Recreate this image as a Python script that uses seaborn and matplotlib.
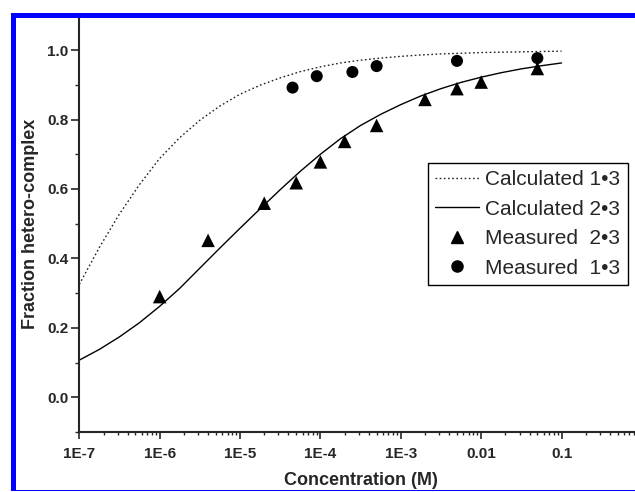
import matplotlib
matplotlib.use("Agg")
import numpy as np
import pandas as pd
import matplotlib.pyplot as plt
import seaborn as sns
from matplotlib.lines import Line2D
from matplotlib.patches import Rectangle
from matplotlib.ticker import LogLocator, FixedLocator, MultipleLocator, NullFormatter

sns.set_style("ticks")
plt.rcParams["font.family"] = ["Liberation Sans", "DejaVu Sans"]

# ---------- data ----------
calc_conc = [1e-7, 1.78e-7, 3.16e-7, 5.62e-7,
             1e-6, 1.78e-6, 3.16e-6, 5.62e-6,
             1e-5, 1.78e-5, 3.16e-5, 5.62e-5,
             1e-4, 1.78e-4, 3.16e-4, 5.62e-4,
             1e-3, 1.78e-3, 3.16e-3, 5.62e-3,
             1e-2, 1.78e-2, 3.16e-2, 5.62e-2, 1e-1]
calc_13 = [0.325, 0.432, 0.528, 0.613,
           0.688, 0.748, 0.798, 0.839,
           0.873, 0.899, 0.920, 0.938,
           0.952, 0.963, 0.971, 0.977,
           0.982, 0.986, 0.989, 0.991,
           0.993, 0.994, 0.995, 0.996, 0.997]
calc_23 = [0.107, 0.138, 0.174, 0.215,
           0.262, 0.314, 0.372, 0.430,
           0.487, 0.543, 0.598, 0.651,
           0.700, 0.745, 0.783, 0.815,
           0.843, 0.868, 0.889, 0.907,
           0.922, 0.935, 0.946, 0.955, 0.963]

meas_23_conc = [1e-6, 4e-6, 2e-5, 5e-5, 1e-4, 2e-4, 5e-4, 2e-3, 5e-3, 1e-2, 5e-2]
meas_23 = [0.29, 0.452, 0.559, 0.618, 0.678, 0.737, 0.783, 0.858, 0.889, 0.908, 0.947]

meas_13_conc = [4.5e-5, 9e-5, 2.5e-4, 5e-4, 5e-3, 5e-2]
meas_13 = [0.892, 0.925, 0.937, 0.954, 0.969, 0.977]

x_ticks = [1e-7, 1e-6, 1e-5, 1e-4, 1e-3, 1e-2, 1e-1]
x_ticklabels = ["1E-7", "1E-6", "1E-5", "1E-4", "1E-3", "0.01", "0.1"]
y_ticks = [0.0, 0.2, 0.4, 0.6, 0.8, 1.0]

calc = pd.DataFrame({"conc": calc_conc, "c13": calc_13, "c23": calc_23})
m23 = pd.DataFrame({"conc": meas_23_conc, "frac": meas_23})
m13 = pd.DataFrame({"conc": meas_13_conc, "frac": meas_13})

# ---------- figure ----------
fig = plt.figure(figsize=(6.35, 4.92), dpi=100)
ax = fig.add_axes([0.1249, 0.1220, 0.886, 0.8467])
ax.set_xscale("log")

dots = (0, (1.2, 1.8))
sns.lineplot(data=calc, x="conc", y="c13", ax=ax, color="#222222", lw=1.0,
             linestyle=dots, estimator=None, sort=True)
sns.lineplot(data=calc, x="conc", y="c23", ax=ax, color="black", lw=1.0,
             estimator=None, sort=True)
sns.scatterplot(data=m23, x="conc", y="frac", ax=ax, marker="^", s=95,
                color="black", edgecolor="none", zorder=4)
sns.scatterplot(data=m13, x="conc", y="frac", ax=ax, marker="o", s=75,
                color="black", edgecolor="none", zorder=4)

ax.set_xlim(1e-7, 1)
ax.set_ylim(-0.1, 1.1)

ax.xaxis.set_major_locator(FixedLocator(x_ticks))
ax.set_xticklabels(x_ticklabels)
ax.xaxis.set_minor_locator(LogLocator(base=10, subs=np.arange(2, 10), numticks=20))
ax.xaxis.set_minor_formatter(NullFormatter())
ax.yaxis.set_major_locator(FixedLocator(y_ticks))
ax.set_yticklabels([f"{v:.1f}" for v in y_ticks])
ax.yaxis.set_minor_locator(MultipleLocator(0.1))

for lab in ax.get_xticklabels() + ax.get_yticklabels():
    lab.set_fontweight("bold")
    lab.set_fontsize(11)
ax.tick_params(axis="x", which="major", direction="out", length=5, width=1.2, pad=6)
ax.tick_params(axis="x", which="minor", direction="out", length=2.5, width=1.0)
ax.tick_params(axis="y", which="major", direction="out", length=6, width=1.2, pad=2)
ax.tick_params(axis="y", which="minor", direction="out", length=3, width=1.0)

sns.despine(ax=ax)
for s in ["left", "bottom"]:
    ax.spines[s].set_linewidth(1.5)

ax.set_xlabel("Concentration (M)", fontsize=13, fontweight="bold", labelpad=8)
ax.set_ylabel("Fraction hetero-complex", fontsize=13, fontweight="bold", labelpad=6)

handles = [
    Line2D([], [], color="#222222", lw=1.0, linestyle=dots),
    Line2D([], [], color="black", lw=1.0),
    Line2D([], [], color="black", marker="^", linestyle="none", markersize=9),
    Line2D([], [], color="black", marker="o", linestyle="none", markersize=8),
]
labels = ["Calculated 1\u20223", "Calculated 2\u20223",
          "Measured  2\u20223", "Measured  1\u20223"]
leg = ax.legend(handles, labels, loc="upper right", bbox_to_anchor=(0.975, 0.6457),
                fontsize=15, frameon=True, fancybox=False, framealpha=1,
                edgecolor="black", handlelength=2.1, handletextpad=0.3,
                labelspacing=0.5, borderpad=0.35, borderaxespad=0)
leg.get_frame().set_linewidth(1.0)

# ---------- blue frame ----------
blue = "#0000ff"
fig.add_artist(Rectangle((10.5 / 635, 0.964), 1, 0.010, transform=fig.transFigure,
                         color=blue, lw=0, zorder=10))
fig.add_artist(Rectangle((10.5 / 635, 0.002), 5.5 / 635, 0.972, transform=fig.transFigure,
                         color=blue, lw=0, zorder=10))
fig.add_artist(Rectangle((10.5 / 635, 0.002), 1, 0.003, transform=fig.transFigure,
                         color=blue, lw=0, zorder=10))

fig.savefig("out.png", dpi=100)
